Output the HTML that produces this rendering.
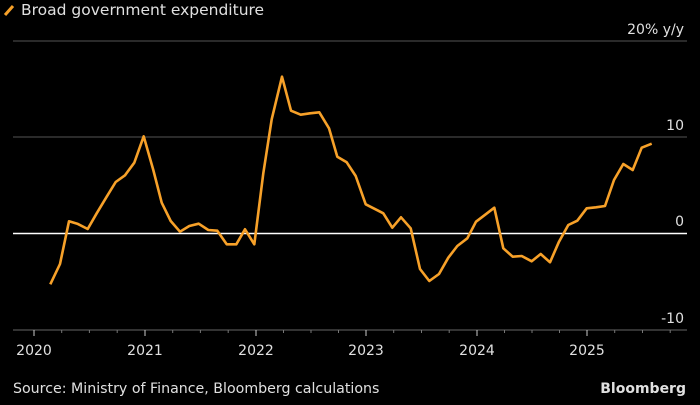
<!DOCTYPE html>
<html><head><meta charset="utf-8"><style>
html,body{margin:0;padding:0;background:#000;}
body{width:700px;height:400px;overflow:hidden;}
</style></head><body>
<svg width="700" height="400" xmlns="http://www.w3.org/2000/svg" font-family="DejaVu Sans, sans-serif">
<rect width="700" height="400" fill="#000"/>
<line x1="5" y1="15" x2="13" y2="6" stroke="#f7a129" stroke-width="3"/>
<text x="21" y="15" fill="#e0e0e0" font-size="15.5">Broad government expenditure</text>
<line x1="13" y1="41" x2="687" y2="41" stroke="#555" stroke-width="1"/>
<line x1="13" y1="137" x2="687" y2="137" stroke="#555" stroke-width="1"/>
<line x1="13" y1="330" x2="687" y2="330" stroke="#666" stroke-width="1"/>
<line x1="13" y1="233.5" x2="687" y2="233.5" stroke="#fff" stroke-width="1.5"/>
<g fill="#e0e0e0" font-size="14" text-anchor="end">
<text x="684" y="34">20% y/y</text>
<text x="684" y="130">10</text>
<text x="684" y="226">0</text>
<text x="684" y="323">-10</text>
</g>
<g stroke="#ccc" stroke-width="1">
<line x1="34" y1="330" x2="34" y2="336"/><line x1="145" y1="330" x2="145" y2="336"/><line x1="256" y1="330" x2="256" y2="336"/><line x1="366" y1="330" x2="366" y2="336"/><line x1="477" y1="330" x2="477" y2="336"/><line x1="587" y1="330" x2="587" y2="336"/>
</g>
<g stroke="#777" stroke-width="1">
<line x1="61.7" y1="330" x2="61.7" y2="333"/><line x1="89.4" y1="330" x2="89.4" y2="333"/><line x1="117.2" y1="330" x2="117.2" y2="333"/>
<line x1="172.7" y1="330" x2="172.7" y2="333"/><line x1="200.4" y1="330" x2="200.4" y2="333"/><line x1="228.2" y1="330" x2="228.2" y2="333"/>
<line x1="283.5" y1="330" x2="283.5" y2="333"/><line x1="311" y1="330" x2="311" y2="333"/><line x1="338.5" y1="330" x2="338.5" y2="333"/>
<line x1="393.7" y1="330" x2="393.7" y2="333"/><line x1="421.5" y1="330" x2="421.5" y2="333"/><line x1="449.2" y1="330" x2="449.2" y2="333"/>
<line x1="504.5" y1="330" x2="504.5" y2="333"/><line x1="532" y1="330" x2="532" y2="333"/><line x1="559.5" y1="330" x2="559.5" y2="333"/>
<line x1="614.7" y1="330" x2="614.7" y2="333"/><line x1="642.5" y1="330" x2="642.5" y2="333"/><line x1="670.2" y1="330" x2="670.2" y2="333"/>
</g>
<g fill="#e0e0e0" font-size="14" text-anchor="middle">
<text x="34" y="355">2020</text><text x="145" y="355">2021</text><text x="256" y="355">2022</text><text x="366" y="355">2023</text><text x="477" y="355">2024</text><text x="587" y="355">2025</text>
</g>
<polyline fill="none" stroke="#f7a129" stroke-width="2.6" stroke-linejoin="round" points="50.3,284.3 60,264 69,221.3 77.3,223.7 87.7,229 96.7,213.3 106.7,196.7 115.7,182 125,175.3 134.3,162.7 143.7,136.3 153.3,170 161.7,202.7 170.7,221 180,231.7 189.3,226 198.7,223.7 208.3,230 217.3,230.7 226.7,244.3 236.3,244.3 245,229.3 254.3,244.3 263.3,173.3 271.7,119.3 282,76.7 291,110.7 300.7,114.7 310,113.3 319.3,112.3 329,128.3 337.3,156.7 346.7,162.3 355.7,176 365.7,204.3 374.3,208.7 383.3,213.3 392.3,227.7 401,217.3 410.7,228.3 420,269 429.3,281 439,274 448.3,257.7 457.3,246 467.3,238.3 476,221.7 485.7,214.3 494.3,207.7 503.3,248.3 512.7,256.7 521.7,256 531.7,261.3 540.7,254 550,262.3 559,241.7 568.3,225 577.3,220.7 586.7,208.3 596,207.3 605,206 614,180 623.3,164 632.7,170 641.7,147.7 651.7,143.7"/>
<text x="13" y="393" fill="#e0e0e0" font-size="14.2">Source: Ministry of Finance, Bloomberg calculations</text>
<text x="686" y="393" fill="#e0e0e0" font-size="14" font-weight="bold" text-anchor="end">Bloomberg</text>
</svg>
</body></html>
